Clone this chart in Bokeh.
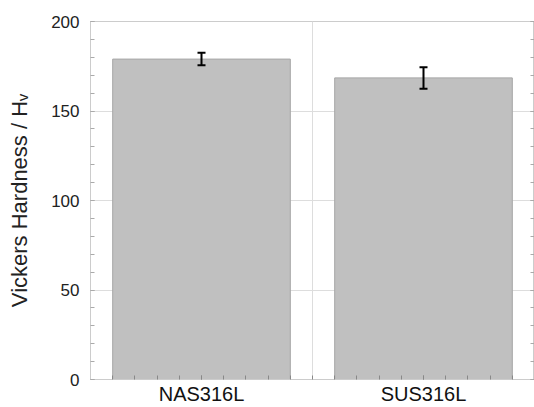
from bokeh.plotting import figure
from bokeh.models import (ColumnDataSource, FixedTicker, LinearAxis, Range1d,
                          Span, Whisker)
from bokeh.embed import file_html
from bokeh.resources import INLINE

categories = ["NAS316L", "SUS316L"]
hardness = [179, 168.5]
hardness_err = [3.5, 6.0]
y_ticks = [0, 50, 100, 150, 200]

xs = [i + 0.5 for i in range(len(categories))]
src = ColumnDataSource(dict(
    x=xs, top=hardness,
    upper=[v + e for v, e in zip(hardness, hardness_err)],
    lower=[v - e for v, e in zip(hardness, hardness_err)],
))

p = figure(width=534, height=407, output_backend="svg", toolbar_location=None,
           x_range=Range1d(0, len(categories)), y_range=Range1d(0, 200),
           min_border_left=90, min_border_top=21, min_border_right=0,
           min_border_bottom=26, y_axis_location="left")
p.background_fill_color = "white"
p.border_fill_color = "white"
p.outline_line_color = "#cccccc"
p.outline_line_width = 1

# grid
p.xgrid.visible = False
p.ygrid.ticker = FixedTicker(ticks=[50, 100, 150])
p.ygrid.grid_line_color = "#dddddd"
p.ygrid.grid_line_width = 1
p.add_layout(Span(location=1.0, dimension="height", line_color="#dddddd",
                  line_width=1, level="underlay"))

p.vbar(x="x", top="top", width=0.8, source=src, fill_color="#c0c0c0",
       line_color="#a6a6a6", line_width=1)

w = Whisker(source=src, base="x", upper="upper", lower="lower",
            line_color="black", line_width=2, level="overlay")
for head in (w.upper_head, w.lower_head):
    head.line_color = "black"
    head.line_width = 2
    head.size = 8
p.add_layout(w)

# y axis
ya = p.yaxis[0]
ya.ticker = FixedTicker(ticks=y_ticks, minor_ticks=list(range(0, 201, 10)))
ya.axis_line_color = "#cccccc"
ya.major_tick_in = 4
ya.major_tick_out = 0
ya.minor_tick_in = 4
ya.minor_tick_out = 0
ya.major_tick_line_color = "#aaaaaa"
ya.minor_tick_line_color = "#aaaaaa"
ya.major_label_text_font = "Liberation Sans"
ya.major_label_text_font_size = "17px"
ya.major_label_text_color = "#222222"
ya.major_label_standoff = 11
ya.axis_label = "Vickers Hardness / H\u1d65"
ya.axis_label_text_font = "Liberation Sans"
ya.axis_label_text_font_size = "22px"
ya.axis_label_text_font_style = "normal"
ya.axis_label_text_color = "#222222"
ya.axis_label_standoff = 16

# right axis (ticks only)
ra = LinearAxis(ticker=FixedTicker(ticks=y_ticks, minor_ticks=list(range(0, 201, 10))))
ra.axis_line_color = "#cccccc"
ra.major_tick_in = 4
ra.major_tick_out = 0
ra.minor_tick_in = 4
ra.minor_tick_out = 0
ra.major_tick_line_color = "#aaaaaa"
ra.minor_tick_line_color = "#aaaaaa"
ra.major_label_overrides = {t: "" for t in y_ticks}
ra.major_label_text_font_size = "1px"
ra.major_label_standoff = 0
p.add_layout(ra, "right")

# x axis
xa = p.xaxis[0]
xa.ticker = FixedTicker(ticks=xs, minor_ticks=[i / 10 for i in range(1, 20)])
xa.major_label_overrides = {x: c for x, c in zip(xs, categories)}
xa.axis_line_color = "#cccccc"
xa.major_tick_in = 4
xa.major_tick_out = 0
xa.minor_tick_in = 4
xa.minor_tick_out = 0
xa.major_tick_line_color = "#888888"
xa.minor_tick_line_color = "#888888"
xa.major_label_text_font = "Liberation Sans"
xa.major_label_text_font_size = "20px"
xa.major_label_text_color = "#111111"
xa.major_label_standoff = 3

open("out.html", "w").write(file_html(p, INLINE))
